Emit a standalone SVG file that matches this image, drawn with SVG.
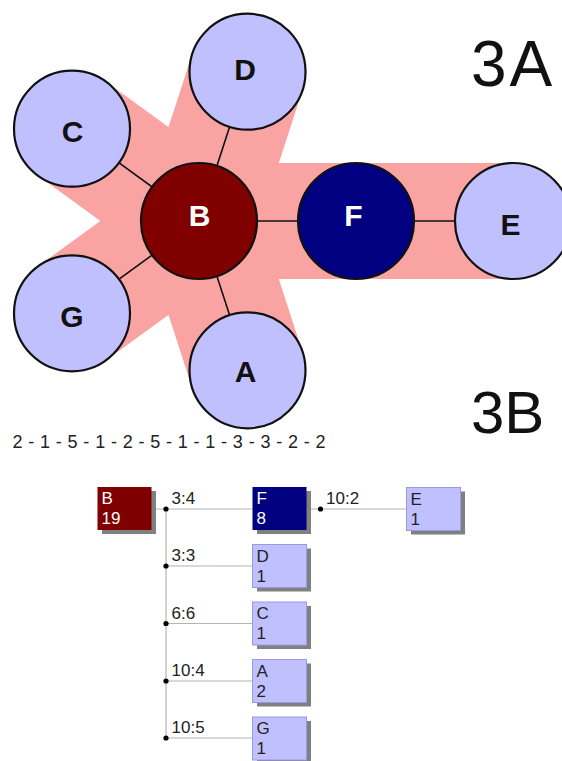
<svg xmlns="http://www.w3.org/2000/svg" width="562" height="761" viewBox="0 0 562 761">
  <style>
    .band { stroke: #f9a3a3; stroke-width: 116; stroke-linecap: butt; fill: none; }
    .edge { stroke: #111; stroke-width: 1.6; }
    .ball { stroke: #111; stroke-width: 2.2; }
    .leaf { fill: #c0c0ff; }
    .hub { fill: #800000; }
    .mid { fill: #000080; }
    .big { font-family: "Liberation Sans", Arial, sans-serif; font-weight: bold; font-size: 30px; text-anchor: middle; fill: #111; }
    .title { font-family: "Liberation Sans", Arial, sans-serif; fill: #111; }
    .seq { font-family: "Liberation Sans", Arial, sans-serif; font-size: 18px; fill: #222; }
    .wire { stroke: #b4b4b4; stroke-width: 1.2; fill: none; }
    .dot { fill: #000; }
    .lbl { font-family: "Liberation Sans", Arial, sans-serif; font-size: 17px; fill: #222; }
    .box-txt { font-family: "Liberation Sans", Arial, sans-serif; font-size: 17px; fill: #222; }
    .shadow { fill: #808080; }
    .box-leaf { fill: #c0c0ff; stroke: #9a9ae0; stroke-width: 1; }
    .box-hub { fill: #800000; }
    .box-mid { fill: #000080; }
    text.inv { fill: #fff; }
  </style>

  <rect width="562" height="761" fill="#fff"/>

  <!-- 3A: star layout around B -->
  <g id="bands">
    <line class="band" x1="199" y1="221" x2="247.5" y2="71.7"/>
    <line class="band" x1="199" y1="221" x2="72" y2="128.7"/>
    <line class="band" x1="199" y1="221" x2="72" y2="313.3"/>
    <line class="band" x1="199" y1="221" x2="247.5" y2="370.3"/>
    <line class="band" x1="199" y1="221" x2="513" y2="221"/>
  </g>

  <g id="connectors-3a">
    <line class="edge" x1="199" y1="221" x2="247.5" y2="71.7"/>
    <line class="edge" x1="199" y1="221" x2="72" y2="128.7"/>
    <line class="edge" x1="199" y1="221" x2="72" y2="313.3"/>
    <line class="edge" x1="199" y1="221" x2="247.5" y2="370.3"/>
    <line class="edge" x1="199" y1="221" x2="513" y2="221"/>
  </g>

  <g id="node-D">
    <circle class="ball leaf" cx="247.5" cy="71.7" r="58"/>
    <text class="big" x="245" y="80">D</text>
  </g>
  <g id="node-C">
    <circle class="ball leaf" cx="72" cy="128.7" r="58"/>
    <text class="big" x="72.5" y="142">C</text>
  </g>
  <g id="node-G">
    <circle class="ball leaf" cx="72" cy="313.3" r="58"/>
    <text class="big" x="72" y="327">G</text>
  </g>
  <g id="node-A">
    <circle class="ball leaf" cx="247.5" cy="370.3" r="58"/>
    <text class="big" x="245.5" y="382">A</text>
  </g>
  <g id="node-B">
    <circle class="ball hub" cx="199" cy="221" r="58"/>
    <text class="big inv" x="199.5" y="226">B</text>
  </g>
  <g id="node-F">
    <circle class="ball mid" cx="356" cy="221" r="58"/>
    <text class="big inv" x="353.5" y="226">F</text>
  </g>
  <g id="node-E">
    <circle class="ball leaf" cx="513" cy="221" r="58"/>
    <text class="big" x="510.5" y="235">E</text>
  </g>

  <text class="title" x="471" y="86" font-size="64" letter-spacing="3">3A</text>
  <text class="title" x="471" y="433" font-size="60">3B</text>

  <text class="seq" x="12.5" y="447.5" textLength="313" lengthAdjust="spacing">2 - 1 - 5 - 1 - 2 - 5 - 1 - 1 - 3 - 3 - 2 - 2</text>

  <!-- 3B: tree listing -->
  <g id="connectors-3b">
    <line class="wire" x1="151" y1="509" x2="252.5" y2="509"/>
    <line class="wire" x1="166" y1="509" x2="166" y2="738"/>
    <line class="wire" x1="166" y1="566" x2="252.5" y2="566"/>
    <line class="wire" x1="166" y1="623.5" x2="252.5" y2="623.5"/>
    <line class="wire" x1="166" y1="681" x2="252.5" y2="681"/>
    <line class="wire" x1="166" y1="738" x2="252.5" y2="738"/>
    <line class="wire" x1="306.5" y1="509" x2="406.5" y2="509"/>
    <circle class="dot" cx="166" cy="509" r="2.6"/>
    <circle class="dot" cx="166" cy="566" r="2.6"/>
    <circle class="dot" cx="166" cy="623.5" r="2.6"/>
    <circle class="dot" cx="166" cy="681" r="2.6"/>
    <circle class="dot" cx="166" cy="738" r="2.6"/>
    <circle class="dot" cx="320.5" cy="509" r="2.6"/>
    <text class="lbl" x="171.5" y="503.5">3:4</text>
    <text class="lbl" x="171.5" y="561">3:3</text>
    <text class="lbl" x="171.5" y="618.5">6:6</text>
    <text class="lbl" x="171.5" y="676">10:4</text>
    <text class="lbl" x="171.5" y="733">10:5</text>
    <text class="lbl" x="326" y="503.5">10:2</text>
  </g>

  <g id="box-B">
    <rect class="shadow" x="102" y="491" width="54" height="43"/>
    <rect class="box-hub" x="97.5" y="487" width="54" height="43"/>
    <text class="box-txt inv" x="101.5" y="504">B</text>
    <text class="box-txt inv" x="101.5" y="524">19</text>
  </g>
  <g id="box-F">
    <rect class="shadow" x="257" y="491" width="54" height="43"/>
    <rect class="box-mid" x="252.5" y="487" width="54" height="43"/>
    <text class="box-txt inv" x="256.5" y="504">F</text>
    <text class="box-txt inv" x="256.5" y="524">8</text>
  </g>
  <g id="box-E">
    <rect class="shadow" x="411" y="491.5" width="54" height="43"/>
    <rect class="box-leaf" x="406.5" y="487.5" width="54" height="43"/>
    <text class="box-txt" x="410.5" y="504.5">E</text>
    <text class="box-txt" x="410.5" y="524.5">1</text>
  </g>
  <g id="box-D">
    <rect class="shadow" x="257" y="548.5" width="54" height="43"/>
    <rect class="box-leaf" x="252.5" y="544.5" width="54" height="43"/>
    <text class="box-txt" x="256.5" y="561.5">D</text>
    <text class="box-txt" x="256.5" y="581.5">1</text>
  </g>
  <g id="box-C">
    <rect class="shadow" x="257" y="606" width="54" height="43"/>
    <rect class="box-leaf" x="252.5" y="602" width="54" height="43"/>
    <text class="box-txt" x="256.5" y="619">C</text>
    <text class="box-txt" x="256.5" y="639">1</text>
  </g>
  <g id="box-A">
    <rect class="shadow" x="257" y="663.5" width="54" height="43"/>
    <rect class="box-leaf" x="252.5" y="659.5" width="54" height="43"/>
    <text class="box-txt" x="256.5" y="676.5">A</text>
    <text class="box-txt" x="256.5" y="696.5">2</text>
  </g>
  <g id="box-G">
    <rect class="shadow" x="257" y="721" width="54" height="43"/>
    <rect class="box-leaf" x="252.5" y="717" width="54" height="43"/>
    <text class="box-txt" x="256.5" y="734">G</text>
    <text class="box-txt" x="256.5" y="754">1</text>
  </g>
</svg>
